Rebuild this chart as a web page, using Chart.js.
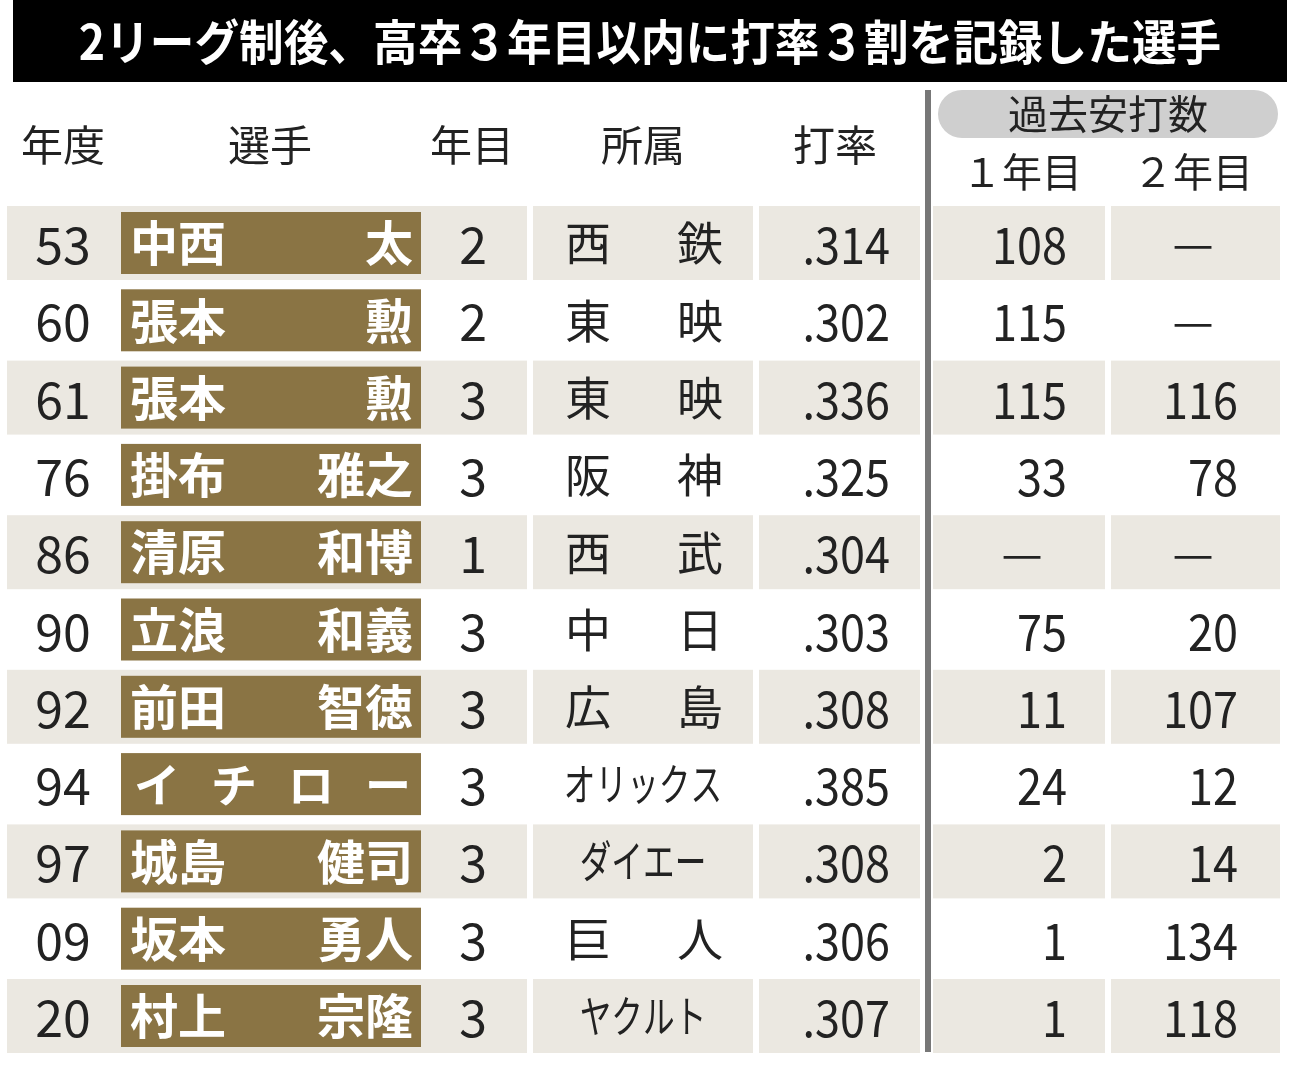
<!DOCTYPE html>
<html>
<head>
<meta charset="utf-8">
<script src="https://cdn.jsdelivr.net/npm/chart.js@4.4.1/dist/chart.umd.min.js"></script>
<style>
  html, body { margin: 0; padding: 0; background: #fff; }
  #wrap { width: 1300px; height: 1069px; }
</style>
</head>
<body>
<div id="wrap"><canvas id="tableChart"></canvas></div>
<script>
const title = "2リーグ制後、高卒３年目以内に打率３割を記録した選手";
const years = ["53", "60", "61", "76", "86", "90", "92", "94", "97", "09", "20"];
const surnames = ["中西", "張本", "張本", "掛布", "清原", "立浪", "前田", "イ チ ロ ー", "城島", "坂本", "村上"];
const givenNames = ["太", "勲", "勲", "雅之", "和博", "和義", "智徳", "", "健司", "勇人", "宗隆"];
const yearInPro = ["2", "2", "3", "3", "1", "3", "3", "3", "3", "3", "3"];
const teams = ["西鉄", "東映", "東映", "阪神", "西武", "中日", "広島", "オリックス", "ダイエー", "巨人", "ヤクルト"];
const averages = [".314", ".302", ".336", ".325", ".304", ".303", ".308", ".385", ".308", ".306", ".307"];
const hitsYear1 = [108, 115, 115, 33, null, 75, 11, 24, 2, 1, 1];
const hitsYear2 = [null, null, 116, 78, null, 20, 107, 12, 14, 134, 118];

const FONT = '"Noto Sans CJK JP", "Noto Sans", sans-serif';

const tablePlugin = {
  id: "tablePlugin",
  afterDraw(chart) {
    const { ctx, scales: { x, y } } = chart;
    const px = v => x.getPixelForValue(v);
    const py = v => y.getPixelForValue(v);
    const text = (s, cx, cy, size, color, align, weight, scaleX) => {
      ctx.save();
      ctx.font = `${weight || "normal"} ${size}px ${FONT}`;
      ctx.fillStyle = color;
      ctx.textAlign = align || "center";
      ctx.textBaseline = "middle";
      ctx.translate(px(cx), py(cy));
      ctx.scale(scaleX || 1, 1);
      ctx.fillText(s, 0, 0);
      ctx.restore();
    };
    const rect = (x0, y0, x1, y1, color) => {
      ctx.fillStyle = color;
      ctx.fillRect(px(x0), py(y0), px(x1) - px(x0), py(y1) - py(y0));
    };

    // title
    rect(13, 0, 1287, 82, "#000");
    text(title, 650, 42, 48, "#fff", "center", "bold", 0.93);

    // header
    const hy = 145;
    text("年度", 63, hy, 42, "#222");
    text("選手", 270, hy, 42, "#222");
    text("年目", 472, hy, 42, "#222");
    text("所属", 643, hy, 42, "#222");
    text("打率", 835, hy, 42, "#222");
    ctx.save();
    ctx.fillStyle = "#cfcfcf";
    ctx.beginPath();
    ctx.roundRect(px(938), py(90), px(1278) - px(938), py(138) - py(90), 24);
    ctx.fill();
    ctx.restore();
    text("過去安打数", 1108, 114, 40, "#222");
    text("１年目", 1022, 172, 40, "#222");
    text("２年目", 1193, 172, 40, "#222");

    const segs = [[7, 527], [533, 753], [759, 920], [933, 1105], [1111, 1280]];
    const pitch = 77.3;
    years.forEach((yr, i) => {
      const cy = 243 + i * pitch;
      if (i % 2 === 0) segs.forEach(s => rect(s[0], cy - 37, s[1], cy + 37, "#ebe8e1"));
      text(yr, 63, cy + 2, 50, "#222");
      rect(121, cy - 31, 421, cy + 31, "#8a7444");
      if (givenNames[i] === "") {
        [...surnames[i].replace(/ /g, "")].forEach((ch, k) => text(ch, 157 + k * 77, cy, 46, "#fff", "center", "bold"));
      } else {
        text(surnames[i], 130, cy, 48, "#fff", "left", "bold");
        text(givenNames[i], 413, cy, 48, "#fff", "right", "bold");
      }
      text(yearInPro[i], 473, cy + 2, 50, "#222");
      const t = teams[i];
      if (t.length === 2) {
        text(t[0], 588, cy, 46, "#222");
        text(t[1], 700, cy, 46, "#222");
      } else {
        text(t, 643, cy, 44, "#222", "center", "normal", 0.72);
      }
      text(averages[i], 890, cy + 2, 50, "#222", "right", "normal", 0.9);
      const h1 = hitsYear1[i], h2 = hitsYear2[i];
      if (h1 === null) text("—", 1022, cy, 46, "#222");
      else text(String(h1), 1067, cy + 2, 50, "#222", "right", "normal", 0.9);
      if (h2 === null) text("—", 1193, cy, 46, "#222");
      else text(String(h2), 1238, cy + 2, 50, "#222", "right", "normal", 0.9);
    });

    // divider
    rect(925, 90, 931, 1052, "#777");
  }
};

new Chart(document.getElementById("tableChart"), {
  type: "scatter",
  data: { datasets: [{ data: [] }] },
  options: {
    responsive: true,
    maintainAspectRatio: false,
    animation: false,
    layout: { padding: 0 },
    plugins: { legend: { display: false }, tooltip: { enabled: false } },
    scales: {
      x: { type: "linear", min: 0, max: 1300, display: false },
      y: { type: "linear", min: 0, max: 1069, reverse: true, display: false }
    }
  },
  plugins: [tablePlugin]
});
</script>
</body>
</html>
